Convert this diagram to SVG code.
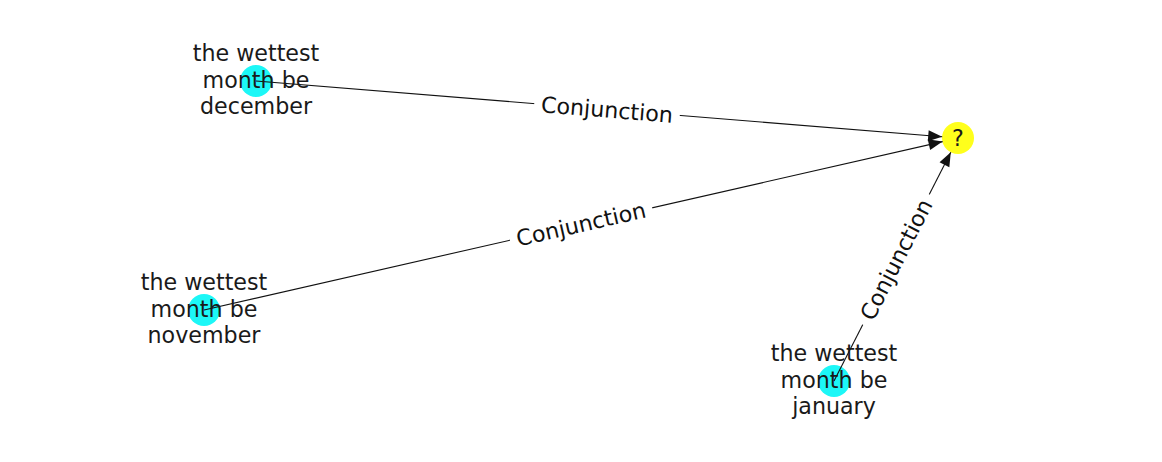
<svg xmlns="http://www.w3.org/2000/svg" width="1162" height="462" viewBox="0 0 1162 462">
<style>
.nodeC{fill:#1cf7f7;}
.nodeY{fill:#ffff1c;}
.lbl{font-family:"DejaVu Sans",sans-serif;font-size:22.2px;fill:#1a1a1a;text-anchor:middle;}
.edge{stroke:#111;stroke-width:1.1;fill:none;}
.elbl{font-family:"DejaVu Sans",sans-serif;font-size:22.2px;fill:#111;text-anchor:middle;dominant-baseline:central;}
.ebox{fill:#fff;}
</style>
<defs>
<marker id="arr" markerUnits="userSpaceOnUse" markerWidth="16" markerHeight="14" viewBox="-15 -7 16 14" refX="0" refY="0" orient="auto">
<path d="M0,0 L-14,-5.5 L-14,5.5 Z" fill="#111"/>
</marker>
</defs>
<rect width="1162" height="462" fill="#fff"/>
<g id="node-q"><circle class="nodeY" cx="958" cy="138" r="16"/></g>
<g id="node-december"><circle class="nodeC" cx="256" cy="81" r="16"/></g>
<g id="node-november"><circle class="nodeC" cx="204" cy="310" r="16"/></g>
<g id="node-january"><circle class="nodeC" cx="834" cy="381" r="16"/></g>
<g id="edges">
<line class="edge" x1="256" y1="81" x2="942.2" y2="136.8" marker-end="url(#arr)"/>
<line class="edge" x1="204" y1="310" x2="942.6" y2="141.6" marker-end="url(#arr)"/>
<line class="edge" x1="834" y1="381" x2="950.8" y2="152.2" marker-end="url(#arr)"/>
<g transform="translate(607,109.5) rotate(4.64)"><rect class="ebox" x="-73" y="-14" width="146" height="28"/><text class="elbl" x="0" y="0">Conjunction</text></g>
<g transform="translate(581,224) rotate(-12.85)"><rect class="ebox" x="-73" y="-14" width="146" height="28"/><text class="elbl" x="0" y="0">Conjunction</text></g>
<g transform="translate(896,259.5) rotate(-63)"><rect class="ebox" x="-73" y="-14" width="146" height="28"/><text class="elbl" x="0" y="0">Conjunction</text></g>
</g>
<g id="labels">
<text class="lbl" x="958" y="146">?</text>
<text class="lbl" x="256"><tspan x="256" y="61">the wettest</tspan><tspan x="256" y="87.5">month be</tspan><tspan x="256" y="114">december</tspan></text>
<text class="lbl" x="204"><tspan x="204" y="290">the wettest</tspan><tspan x="204" y="316.5">month be</tspan><tspan x="204" y="343">november</tspan></text>
<text class="lbl" x="834"><tspan x="834" y="361">the wettest</tspan><tspan x="834" y="387.5">month be</tspan><tspan x="834" y="414">january</tspan></text>
</g>
</svg>
